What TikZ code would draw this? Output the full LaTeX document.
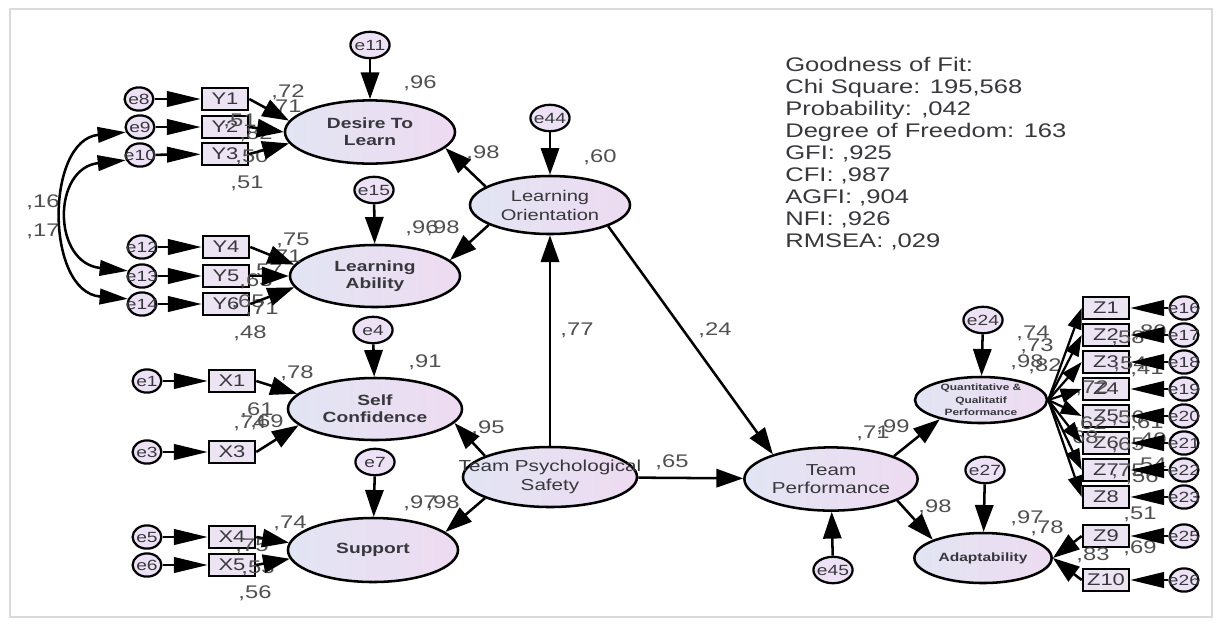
\documentclass[tikz,border=0pt]{standalone}
\usepackage{fontspec}
\setmainfont[FakeStretch=1.3]{Liberation Sans}
\usetikzlibrary{shapes.geometric,arrows.meta}
\definecolor{latl}{RGB}{226,229,243}
\definecolor{latr}{RGB}{238,219,241}
\definecolor{boxfill}{RGB}{236,228,243}
\definecolor{errfill}{RGB}{237,226,245}
\definecolor{txt}{RGB}{55,55,60}
\definecolor{numgray}{RGB}{80,80,80}
\definecolor{framegray}{RGB}{218,218,218}

\begin{document}
\begin{tikzpicture}[x=0.025cm,y=-0.025cm,
	lat/.style={ellipse,draw,line width=1.8pt,left color=latl,right color=latr,text=txt,align=center,inner sep=0pt},
	obs/.style={draw,line width=1.8pt,fill=boxfill,minimum width=1.15cm,minimum height=0.55cm,inner sep=0pt,text=txt,font=\fontsize{12}{12}\selectfont},
	err/.style={ellipse,draw,line width=1.6pt,fill=errfill,minimum width=0.72cm,minimum height=0.58cm,inner sep=0pt,text=txt,font=\fontsize{10.5}{10.5}\selectfont},
	res/.style={err,minimum width=0.98cm,minimum height=0.66cm},
	num/.style={text=numgray,inner sep=0pt,font=\fontsize{13}{13}\selectfont},
	pth/.style={line width=1.8pt,-{Triangle[length=19pt,width=13pt]}},
	zpth/.style={line width=1.6pt,-{Triangle[length=15pt,width=10pt]}},
	ind/.style={line width=1.8pt,-{Triangle[length=24pt,width=11pt]}},
	cov/.style={line width=1.8pt,{Triangle[length=20pt,width=11pt]}-{Triangle[length=20pt,width=11pt]}}]
	\useasboundingbox (0,0) rectangle (1224,621);
	\draw[framegray,line width=1.2pt] (10,9) rectangle (1212,617);
	% latent variables
	\node[lat,minimum width=4.25cm,minimum height=1.58cm,font=\bfseries\fontsize{10.5}{12}\selectfont] (dtl) at (370,132) {Desire To\\Learn};
	\node[lat,minimum width=4.25cm,minimum height=1.55cm,font=\bfseries\fontsize{10.5}{12}\selectfont] (la) at (375,276) {Learning\\Ability};
	\node[lat,minimum width=4.35cm,minimum height=1.55cm,font=\bfseries\fontsize{10.5}{12}\selectfont] (sc) at (375,409) {Self\\Confidence};
	\node[lat,minimum width=4.25cm,minimum height=1.6cm,font=\bfseries\fontsize{10.5}{12}\selectfont] (sup) at (373,550) {Support};
	\node[lat,minimum width=4.0cm,minimum height=1.45cm,font=\fontsize{11}{13.5}\selectfont] (lo) at (550,205) {Learning\\Orientation};
	\node[lat,minimum width=4.35cm,minimum height=1.5cm,font=\fontsize{11.3}{13}\selectfont] (tps) at (550,477) {\makebox[0pt]{Team Psychological}\\Safety};
	\node[lat,minimum width=4.33cm,minimum height=1.58cm,font=\fontsize{11.3}{13}\selectfont] (tp) at (831,479) {Team\\Performance};
	\node[lat,minimum width=3.3cm,minimum height=1.15cm,font=\bfseries\fontsize{6.5}{9}\selectfont] (qqp) at (981,400) {Quantitative \&\\Qualitatif\\Performance};
	\node[lat,minimum width=3.43cm,minimum height=1.25cm,font=\bfseries\fontsize{8.5}{10}\selectfont] (ada) at (983,558) {Adaptability};
	% observed variables
	\foreach \n/\y in {1/99,2/127,3/154}
		\node[obs] (y\n) at (225,\y) {Y\n};
	\foreach \n/\y in {4/247,5/276,6/304}
		\node[obs] (y\n) at (226,\y) {Y\n};
	\foreach \n/\y in {1/381,3/452,4/537,5/565}
		\node[obs] (x\n) at (232,\y) {X\n};
	\foreach \n/\y in {1/308,2/335,3/362,4/389,5/416,6/443,7/470,8/497,9/536,10/580}
		\node[obs] (z\n) at (1106,\y) {Z\n};
	% error terms
	\foreach \n/\x/\y in {8/139/99,9/140/127,10/140/155,12/142/247,13/142/276,14/142/304,1/147/381,3/147/452,5/147/537,6/147/565}
		\node[err] (e\n) at (\x,\y) {\makebox[0pt]{e\n}};
	\foreach \n/\y in {16/308,17/335,18/362,19/389,20/416,21/443,22/470,23/497,25/536,26/580}
		\node[err] (e\n) at (1184,\y) {\makebox[0pt]{e\n}};
	\foreach \n/\x/\y in {11/370/45,15/374/190,4/373/330,7/375/462,44/550/118,24/983/320,27/985/470,45/833/570}
		\node[res] (e\n) at (\x,\y) {\makebox[0pt]{e\n}};
	% estimates
	\foreach \x/\y/\t [count=\i] in {420/83/{,96},288/92/{,72},285/107/{,71},240/121/{,51},256/134/{,82},252/157/{,50},247/183/{,51},
		293/240/{,75},285/257/{,71},266/271/{,57},256/281/{,63},248/302/{,65},262/309/{,71},250/333/{,48},
		425/362/{,91},297/373/{,78},257/410/{,61},250/423/{,74},267/422/{,69},
		420/503/{,97},443/503/{,98},290/523/{,74},252/546/{,75},258/568/{,53},255/593/{,56},
		600/157/{,60},483/153/{,98},422/228/{,96},443/228/{,98},
		577/330/{,77},715/330/{,24},488/428/{,95},672/462/{,65},873/433/{,71},893/427/{,99},935/507/{,98},
		1033/333/{,74},1037/346/{,73},1027/362/{,98},1045/366/{,82},1128/338/{,58},1150/332/{,80},1130/364/{,54},1147/369/{,41},
		1092/388/{,72},1090/424/{,62},1082/438/{,68},1128/418/{,56},1147/423/{,61},1128/445/{,65},1150/440/{,40},
		1128/471/{,75},1150/465/{,54},1142/477/{,56},1140/514/{,51},
		1027/518/{,97},1047/528/{,78},1093/555/{,83},1140/548/{,69},
		43/202/{,16},43/231/{,17}}
		\node[num] (n\i) at (\x,\y) {\t};
	\node[anchor=north west,align=left,inner sep=0pt,text=txt,font=\fontsize{14}{15.6}\selectfont] (gof) at (785,57) {Goodness of Fit:\\Chi Square: 195,568\\Probability: ,042\\Degree of Freedom: 163\\GFI: ,925\\CFI: ,987\\AGFI: ,904\\NFI: ,926\\RMSEA: ,029};
	% error to indicator
	\foreach \a/\b in {e8/y1,e9/y2,e10/y3,e12/y4,e13/y5,e14/y6,e1/x1,e3/x3,e5/x4,e6/x5,e16/z1,e17/z2,e18/z3,e19/z4,e20/z5,e21/z6,e22/z7,e23/z8,e25/z9,e26/z10}
		\draw[ind] (\a) -- (\b);
	% indicators to latent
	\draw[pth] (y1.east) -- (dtl.172);
	\draw[pth] (y2.east) -- (dtl.180);
	\draw[pth] (y3.east) -- (dtl.188);
	\draw[pth] (y4.east) -- (la.172);
	\draw[pth] (y5.east) -- (la.180);
	\draw[pth] (y6.east) -- (la.188);
	\draw[pth] (x1.east) -- (sc.169);
	\draw[pth] (x3.east) -- (sc.192);
	\draw[pth] (x4.east) -- (sup.175);
	\draw[pth] (x5.east) -- (sup.186);
	\draw[pth] (z9.west) -- (ada.east);
	\draw[pth] (z10.west) -- (ada.east);
	\foreach \n in {1,...,8}
		\draw[zpth] (qqp.east) -- (z\n.west);
	% residuals
	\foreach \a/\b in {e11/dtl,e15/la,e44/lo,e4/sc,e7/sup,e45/tp,e24/qqp,e27/ada}
		\draw[pth] (\a) -- (\b);
	% structural paths
	\draw[pth] (lo.164) -- (dtl.-12);
	\draw[pth] (lo.198) -- (la.12);
	\draw[pth] (tps) -- (lo);
	\draw[pth] (lo.-20) -- (tp.157);
	\draw[pth] (tps.162) -- (sc.-10);
	\draw[pth] (tps.198) -- (sup.14);
	\draw[pth] (tps) -- (tp);
	\draw[pth] (tp.20) -- (qqp.205);
	\draw[pth] (tp.-18) -- (ada.160);
	% covariances
	\draw[cov] (e9.200) .. controls (45,140) and (45,292) .. (e14.160);
	\draw[cov] (e10.200) .. controls (52,168) and (52,263) .. (e13.160);
\end{tikzpicture}
\end{document}
